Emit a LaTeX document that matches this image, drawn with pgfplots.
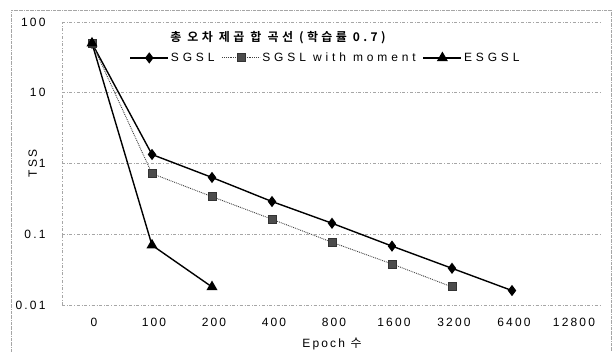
\documentclass[border=0pt]{standalone}
\usepackage{fontspec}
\setmainfont{Liberation Sans}[LetterSpace=18]
\newfontfamily\legfont{Liberation Sans}[LetterSpace=32]
\newfontfamily\kr{Noto Sans CJK KR}[LetterSpace=18]
\newfontfamily\krb{Noto Sans CJK KR Bold}[LetterSpace=28]
\usepackage{pgfplots}
\pgfplotsset{compat=1.18}
\begin{document}
\begin{tikzpicture}
\useasboundingbox (0pt,0pt) rectangle (613pt,352pt);
\draw[gray!70, densely dash dot, line width=0.6pt] (11pt,-5pt) -- (11pt,342pt) -- (611pt,342pt) -- (611pt,-5pt);
\begin{axis}[
  at={(62pt,47pt)}, anchor=south west,
  scale only axis, width=540pt, height=283pt,
  ymode=log, ymin=0.01, ymax=100,
  xmin=-0.5, xmax=8.5,
  xtick={0,1,2,3,4,5,6,7,8},
  xticklabels={0,100,200,400,800,1600,3200,6400,12800},
  ytick={0.01,0.1,1,10,100},
  yticklabels={0.01,0.1,1,10,100},
  /pgf/number format/assume math mode=true,
  tick style={draw=none},
  ymajorgrids, grid style={gray!70, dash dot, line width=0.5pt},
  axis x line*=bottom, axis y line*=left,
  axis line style={gray!70, dash dot, line width=0.5pt, -},
  ticklabel style={font=\fontsize{12}{14}\selectfont},
  xticklabel style={yshift=-10pt, xshift=2pt},
  yticklabel style={xshift=-13pt},
  xlabel={Epoch {\kr 수}}, xlabel style={font=\fontsize{12}{14}\selectfont, yshift=-4pt},
  ylabel={TSS}, ylabel style={font=\fontsize{12}{14}\selectfont, at={(axis description cs:-0.054,0.5)}, anchor=center},
  legend style={draw=none, fill=none, at={(0.488,0.873)}, anchor=center,
    font=\legfont\fontsize{12}{14}\selectfont, /tikz/every even column/.append style={column sep=5pt}},
  legend columns=3,
  legend image code/.code={\draw[#1] (0pt,0pt) -- (38pt,0pt); \draw[#1, only marks] plot coordinates {(19pt,0pt)};},
  clip=false,
]
\addplot[black, line width=1.4pt, mark=diamond*, mark size=4.5pt, mark options={solid, fill=black}]
  coordinates {(0,50) (1,1.34) (2,0.635) (3,0.29) (4,0.143) (5,0.068) (6,0.033) (7,0.016)};
\addlegendentry{SGSL}
\addplot[black!75, line width=0.9pt, densely dotted, mark=square*, mark size=4pt, mark options={solid, fill=black!70, draw=black!80}]
  coordinates {(0,50) (1,0.72) (2,0.34) (3,0.163) (4,0.077) (5,0.038) (6,0.018)};
\addlegendentry{SGSL with moment}
\addplot[black, line width=1.4pt, mark=triangle*, mark size=5pt, mark options={solid, fill=black}]
  coordinates {(0,50) (1,0.07) (2,0.018)};
\addlegendentry{ESGSL}
\node[font=\krb\fontsize{12}{14}\selectfont] at (rel axis cs:0.40,0.943) {총 오차 제곱 합 곡선 (학습률 0.7)};
\end{axis}
\end{tikzpicture}
\end{document}
